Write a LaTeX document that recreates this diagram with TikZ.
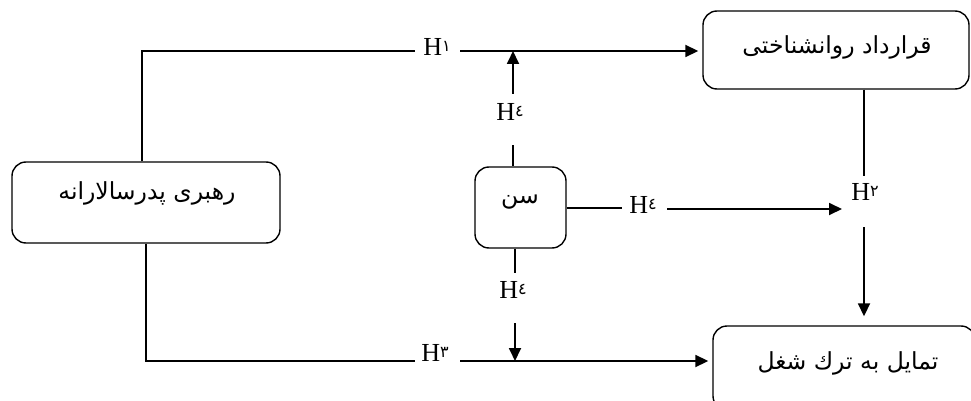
\documentclass[tikz,border=0pt]{standalone}
\usepackage{fontspec}
\setmainfont{Liberation Serif}
\newfontfamily\arfont[Script=Arabic]{DejaVu Sans}
\TeXXeTstate=1
\usetikzlibrary{arrows.meta}
\newcommand{\hlab}[1]{H\raisebox{0.3ex}{\arfont\fontsize{16}{16}\selectfont #1}}
\begin{document}
\begin{tikzpicture}[x=1pt,y=-1pt,line width=1.8pt,
  box/.style={draw,line width=1.4pt,rounded corners=14pt,inner sep=0pt},
  ftxt/.style={font=\arfont\fontsize{23.5}{26}\selectfont,inner sep=0pt},
  hl/.style={font=\fontsize{26}{28}\selectfont,inner sep=0pt},
  arr/.style={-{Triangle[length=13pt,width=12pt]}}]
\useasboundingbox (0,0) rectangle (971,401);
% boxes
\node[box,minimum width=266pt,minimum height=78pt] (psy) at (836,50) {};
\node[ftxt] (psyt) at (837,47) {\beginR قرارداد روانشناختی\endR};
\node[box,minimum width=268pt,minimum height=81pt] (lead) at (146,202.5) {};
\node[ftxt] (leadt) at (147,193) {\beginR رهبری پدرسالارانه\endR};
\node[box,minimum width=91pt,minimum height=81pt] (age) at (520.5,207.5) {};
\node[ftxt] (aget) at (520,202) {\beginR سن\endR};
\node[box,minimum width=262pt,minimum height=84pt] (turn) at (844,368) {};
\node[ftxt] (turnt) at (848,363) {\beginR تمایل به ترك شغل\endR};
% labels
\node[hl] (h1) at (437,47) {\hlab{١}};
\node[hl] (h2) at (865,192) {\hlab{٢}};
\node[hl] (h3) at (435,353) {\hlab{٣}};
\node[hl] (h4a) at (510,112) {\hlab{٤}};
\node[hl] (h4b) at (643,205) {\hlab{٤}};
\node[hl] (h4c) at (513,290) {\hlab{٤}};
% coordinates
\coordinate (c1a) at (142,51);
\coordinate (c1b) at (415,51);
\coordinate (c1c) at (460,51);
\coordinate (c3a) at (146,361);
\coordinate (c3b) at (415,361);
\coordinate (c3c) at (460,361);
\coordinate (ua) at (513,94);
\coordinate (ub) at (513,145);
\coordinate (da) at (515,273);
\coordinate (db) at (515,323);
\coordinate (ra) at (622,208);
\coordinate (rb) at (667,209);
\coordinate (va) at (864,176);
\coordinate (vb) at (864,227);
% connectors
\draw ([xshift=-4pt]lead.north) -- (c1a) -- (c1b);
\draw[arr,shorten >=4pt] (c1c) -- (psy.west |- c1c);
\draw[arr] (ua) -- (ua |- c1c);
\draw (ub) -- (ub |- age.north);
\draw (lead.south) -- (c3a) -- (c3b);
\draw[arr,shorten >=4pt] (c3c) -- (turn.west |- c3c);
\draw (db |- age.south) -- (da);
\draw[arr] (db) -- (db |- c3c);
\draw (age.east |- ra) -- (ra);
\draw[arr] (rb) -- (842,209);
\draw (psy.south -| va) -- (va);
\draw[arr,shorten >=9pt] (vb) -- (vb |- turn.north);
\end{tikzpicture}
\end{document}
